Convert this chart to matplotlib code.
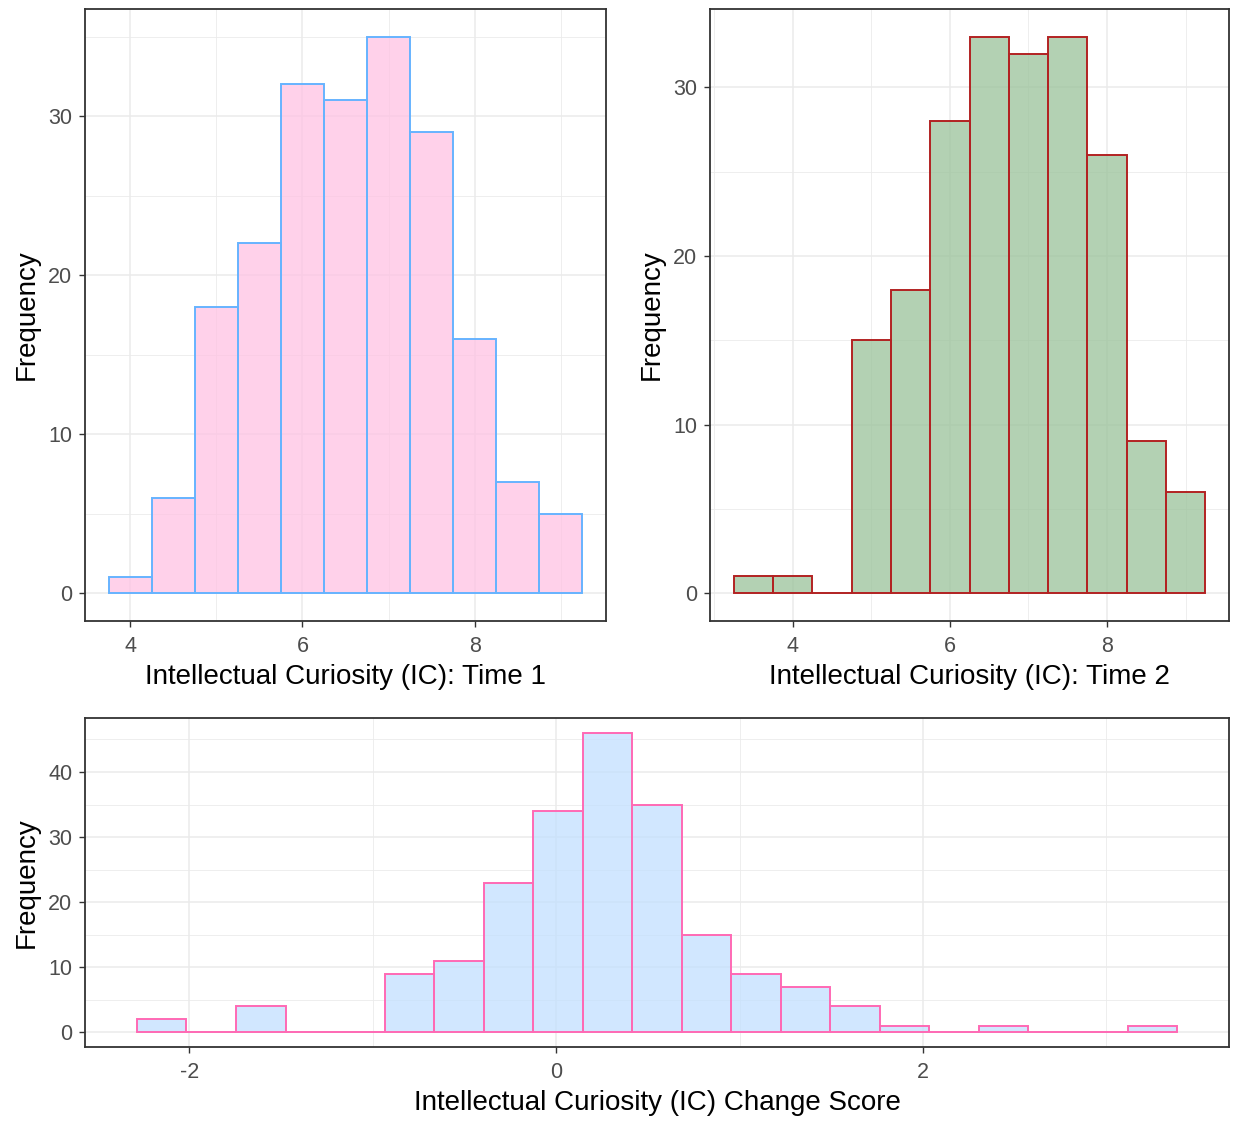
import numpy as np
import matplotlib
matplotlib.use("Agg")
import matplotlib.pyplot as plt
from matplotlib.ticker import MultipleLocator

plt.rcParams['font.family'] = ['Liberation Sans', 'DejaVu Sans']
plt.rcParams['axes.unicode_minus'] = False

# ---- data ----
t1_start, t1_width = 3.75, 0.5
t1_counts = [1, 6, 18, 22, 32, 31, 35, 29, 16, 7, 5]

t2_start, t2_width = 3.25, 0.5
t2_counts = [1, 1, 0, 15, 18, 28, 33, 32, 33, 26, 9, 6]

ch_start, ch_width = -2.285, 0.27
ch_counts = [2, 0, 4, 0, 0, 9, 11, 23, 34, 46, 35, 15, 9, 7, 4, 1, 0, 1, 0, 0, 1]

x_ticks_t = [4, 6, 8]
x_ticks_ch = [-2, 0, 2]

fig = plt.figure(figsize=(12.33, 11.23), dpi=100)

def style(ax, xmaj, xmin, ymaj, ymin):
    ax.set_facecolor('white')
    ax.xaxis.set_major_locator(MultipleLocator(xmaj))
    ax.xaxis.set_minor_locator(MultipleLocator(xmin))
    ax.yaxis.set_major_locator(MultipleLocator(ymaj))
    ax.yaxis.set_minor_locator(MultipleLocator(ymin))
    ax.grid(which='major', color='#EBEBEB', lw=1.1, zorder=0)
    ax.grid(which='minor', color='#EBEBEB', lw=0.6, zorder=0)
    ax.set_axisbelow(True)
    for s in ax.spines.values():
        s.set_color('#333333')
        s.set_linewidth(1.3)
    ax.tick_params(which='major', length=4, width=1.0, color='#333333',
                   labelcolor='#4D4D4D', labelsize=15.5)
    ax.tick_params(axis='x', which='major', pad=7)
    ax.tick_params(axis='y', which='major', pad=5)
    ax.tick_params(which='minor', length=0)

def hist(ax, start, width, counts, fc, ec):
    n = len(counts)
    edges = start + width * np.arange(n)
    ax.bar(edges, counts, width=width, align='edge', facecolor=fc, alpha=0.75,
           edgecolor='none', zorder=2)
    ax.bar(edges, counts, width=width, align='edge', facecolor='none',
           edgecolor=ec, linewidth=1.4, zorder=3)
    lo, hi = start, start + n * width
    pad = 0.05 * (hi - lo)
    ax.set_xlim(lo - pad, hi + pad)
    m = max(counts)
    ax.set_ylim(-0.05 * m, 1.05 * m)

# Top-left
ax1 = fig.add_axes([0.0689, 0.447, 0.4226, 0.545])
hist(ax1, t1_start, t1_width, t1_counts, '#FFC2E3', '#66B3FF')
style(ax1, 2, 1, 10, 5)
ax1.set_xticks(x_ticks_t)
ax1.set_xlabel('Intellectual Curiosity (IC): Time 1', fontsize=20, labelpad=5)
ax1.set_ylabel('Frequency', fontsize=20, labelpad=6)

# Top-right
ax2 = fig.add_axes([0.5758, 0.447, 0.4210, 0.545])
hist(ax2, t2_start, t2_width, t2_counts, '#9AC29A', '#B22222')
style(ax2, 2, 1, 10, 5)
ax2.set_xticks(x_ticks_t)
ax2.set_xlabel('Intellectual Curiosity (IC): Time 2', fontsize=20, labelpad=5)
ax2.set_ylabel('Frequency', fontsize=20, labelpad=6)

# Bottom
ax3 = fig.add_axes([0.0689, 0.0677, 0.9279, 0.2929])
hist(ax3, ch_start, ch_width, ch_counts, '#C2E0FF', '#FF69B4')
style(ax3, 2, 1, 10, 5)
ax3.set_xticks(x_ticks_ch)
ax3.set_xlabel('Intellectual Curiosity (IC) Change Score', fontsize=20, labelpad=5)
ax3.set_ylabel('Frequency', fontsize=20, labelpad=6)

fig.savefig('out.png', dpi=100, facecolor='white')
